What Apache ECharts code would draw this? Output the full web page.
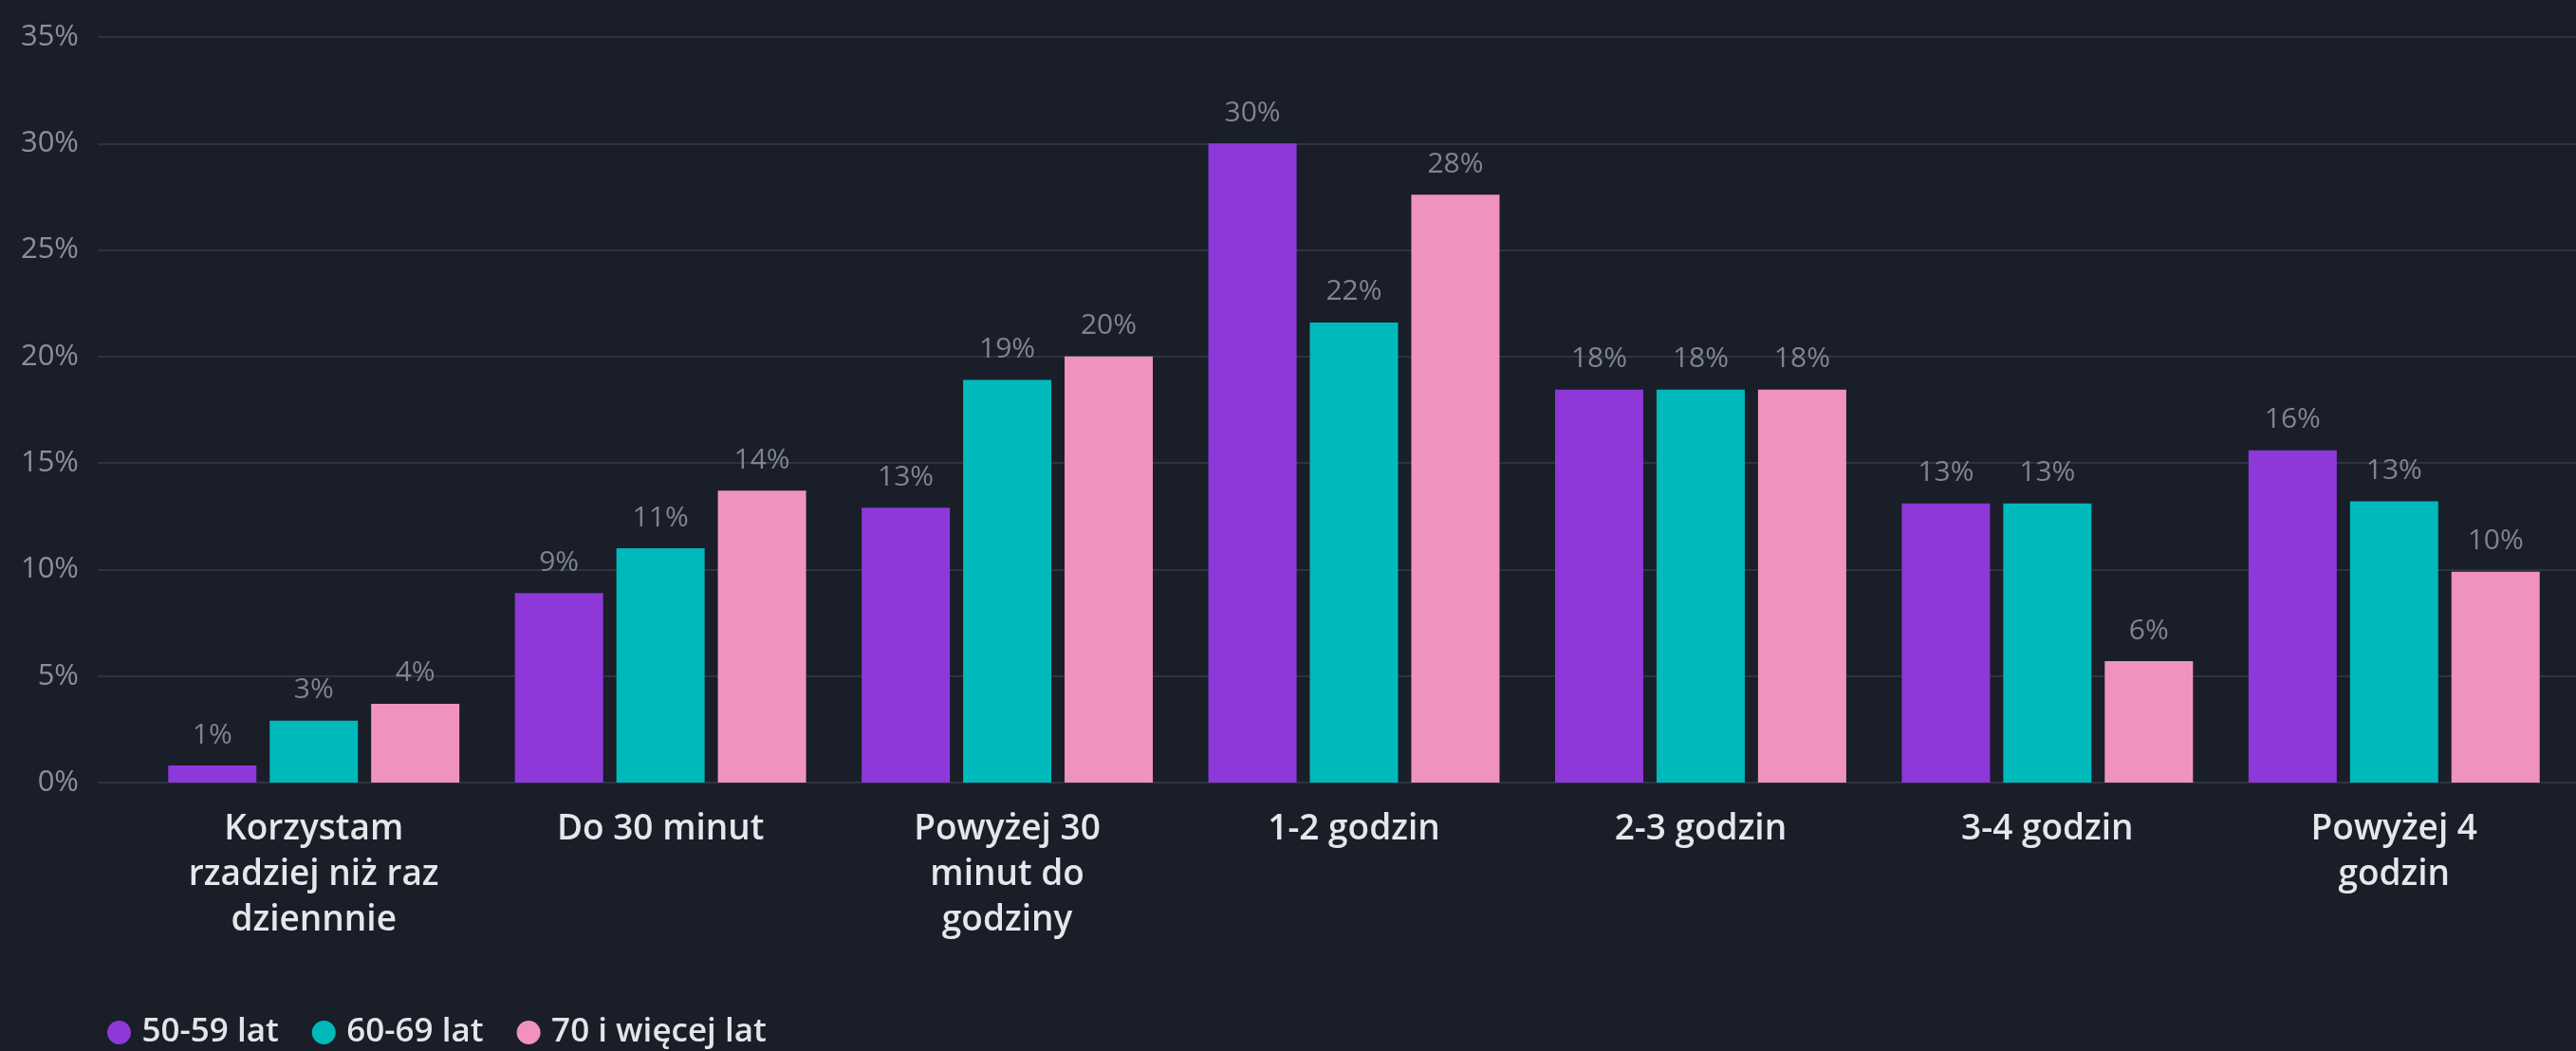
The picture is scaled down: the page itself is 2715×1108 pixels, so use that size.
<!DOCTYPE html>
<html>
<head>
<meta charset="utf-8">
<title>Czas korzystania z internetu według wieku</title>
<script src="https://cdn.jsdelivr.net/npm/echarts@6/dist/echarts.min.js"></script>
<style>
  html, body { margin: 0; padding: 0; background: #191e29; }
  #chart { width: 2715px; height: 1108px; }
</style>
</head>
<body>
<div id="chart"></div>
<script>
// Usage-time categories (line breaks as displayed under the axis)
const categories = [
  'Korzystam\nrzadziej niż raz\ndziennnie',
  'Do 30 minut',
  'Powyżej 30\nminut do\ngodziny',
  '1-2 godzin',
  '2-3 godzin',
  '3-4 godzin',
  'Powyżej 4\ngodzin'
];

const seriesNames = ['50-59 lat', '60-69 lat', '70 i więcej lat'];

// Share of respondents, in percent
const age50to59 = [0.8, 8.9, 12.9, 30.0, 18.45, 13.1, 15.6];
const age60to69 = [2.9, 11.0, 18.9, 21.6, 18.45, 13.1, 13.2];
const age70plus = [3.7, 13.7, 20.0, 27.6, 18.45, 5.7, 9.9];

// Value-axis ticks
const yTicks = { min: 0, max: 35, interval: 5 };

const colors = ['#8e38d9', '#00b9bb', '#ef93be'];
const FONT = '"Open Sans", "Noto Sans", sans-serif';

const chart = echarts.init(document.getElementById('chart'), null, { renderer: 'canvas' });

function barSeries(name, data, color) {
  return {
    name: name,
    type: 'bar',
    xAxisIndex: 1,
    yAxisIndex: 1,
    data: data,
    barWidth: 93,
    barGap: '15%',
    itemStyle: { color: color },
    label: {
      show: true,
      position: 'top',
      distance: 14,
      color: '#7f848e',
      fontFamily: FONT,
      fontSize: 30,
      lineHeight: 36,
      formatter: function (p) { return Math.round(p.value) + '%'; }
    },
    emphasis: { disabled: true }
  };
}

chart.setOption({
  backgroundColor: '#191e29',
  animation: false,
  textStyle: { fontFamily: FONT },
  color: colors,
  legend: {
    left: 108,
    top: 1066,
    icon: 'circle',
    itemWidth: 38,
    itemHeight: 25,
    itemGap: 35,
    textStyle: { color: '#e4e5e8', fontSize: 35, fontWeight: 600, fontFamily: FONT },
    data: seriesNames
  },
  grid: [
    // full-width grid carrying the percentage scale and its gridlines
    { left: 103, right: 0, top: 39, bottom: 283, containLabel: false },
    // grid holding the bars
    { left: 148, right: 9, top: 39, bottom: 283, containLabel: false }
  ],
  xAxis: [
    { gridIndex: 0, type: 'value', min: 0, max: 1, show: false },
    {
      gridIndex: 1,
      type: 'category',
      data: categories,
      axisLine: { show: false },
      axisTick: { show: false },
      axisLabel: {
        color: '#e6e7ea',
        fontFamily: FONT,
        fontSize: 37,
        fontWeight: 600,
        lineHeight: 48,
        margin: 25,
        interval: 0,
        align: 'center'
      }
    }
  ],
  yAxis: [
    {
      gridIndex: 0,
      type: 'value',
      min: yTicks.min,
      max: yTicks.max,
      interval: yTicks.interval,
      axisLine: { show: false },
      axisTick: { show: false },
      axisLabel: {
        color: '#8a8f99',
        fontFamily: FONT,
        fontSize: 31,
        margin: 20,
        formatter: '{value}%'
      },
      splitLine: { show: true, lineStyle: { color: '#2e3341', width: 2 } }
    },
    {
      gridIndex: 1,
      type: 'value',
      min: yTicks.min,
      max: yTicks.max,
      interval: yTicks.interval,
      show: false,
      splitLine: { show: false }
    }
  ],
  series: [
    barSeries(seriesNames[0], age50to59, colors[0]),
    barSeries(seriesNames[1], age60to69, colors[1]),
    barSeries(seriesNames[2], age70plus, colors[2])
  ]
});
</script>
</body>
</html>
